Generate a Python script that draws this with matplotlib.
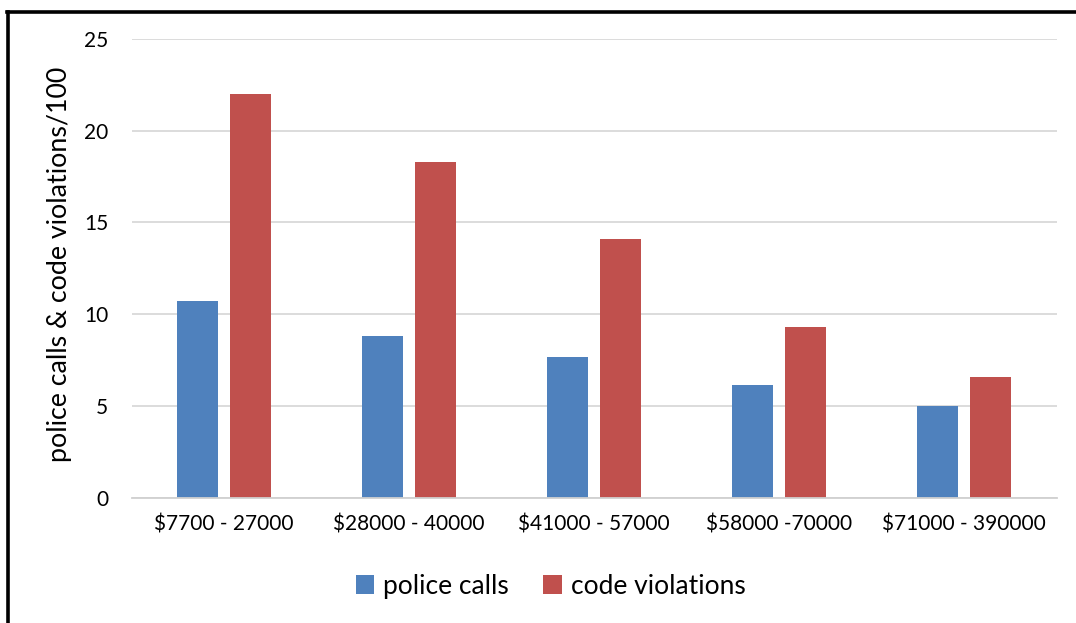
import matplotlib
matplotlib.use("Agg")
import matplotlib.pyplot as plt
from matplotlib.lines import Line2D
import numpy as np

plt.rcParams['font.family'] = ['Lato', 'DejaVu Sans']

categories = ["$7700 - 27000", "$28000 - 40000", "$41000 - 57000", "$58000 -70000", "$71000 - 390000"]
police_calls = [10.7, 8.8, 7.65, 6.15, 5.0]
code_violations = [22.0, 18.3, 14.1, 9.3, 6.6]
y_ticks = [0, 5, 10, 15, 20, 25]

blue = "#4F81BD"
red = "#C0504D"

fig = plt.figure(figsize=(10.76, 6.23), dpi=100)
ax = fig.add_axes([0.1224, 0.2011, 0.8596, 0.7363])

x = np.arange(len(categories))
width = 0.222
offset = 0.143
ax.bar(x - offset, police_calls, width, color=blue, label="police calls", zorder=3)
ax.bar(x + offset, code_violations, width, color=red, label="code violations", zorder=3)

ax.set_xlim(-0.5, len(categories) - 0.5)
ax.set_ylim(0, 25)
ax.set_yticks(y_ticks)
ax.set_xticks(x)
ax.set_xticklabels(categories, fontsize=15)
ax.tick_params(axis='y', length=0, pad=17, labelsize=15)
ax.tick_params(axis='x', length=0, pad=12)
ax.grid(axis='y', color="#D9D9D9", linewidth=1.3, zorder=0)
for s in ["top", "right", "left"]:
    ax.spines[s].set_visible(False)
ax.spines["bottom"].set_color("#D0D0D0")
ax.spines["bottom"].set_linewidth(1.3)
ax.spines["bottom"].set_zorder(4)

ax.set_ylabel("police calls & code violations/100", fontsize=19.3)
ax.yaxis.set_label_coords(-0.0645, 0.508)

ax.legend(loc="center", bbox_to_anchor=(0.453, -0.1925), ncol=2, frameon=False,
          fontsize=19, handlelength=0.7, handleheight=0.7, columnspacing=1.3,
          handletextpad=0.35)

# frame edges along the top and left of the figure
fig.add_artist(Line2D([8 / 1076, 8 / 1076], [0, 1 - 12 / 623], transform=fig.transFigure,
                      color="black", linewidth=2.6))
fig.add_artist(Line2D([6.7 / 1076, 1], [1 - 12 / 623, 1 - 12 / 623], transform=fig.transFigure,
                      color="black", linewidth=2.6))

fig.savefig("out.png", dpi=100)
